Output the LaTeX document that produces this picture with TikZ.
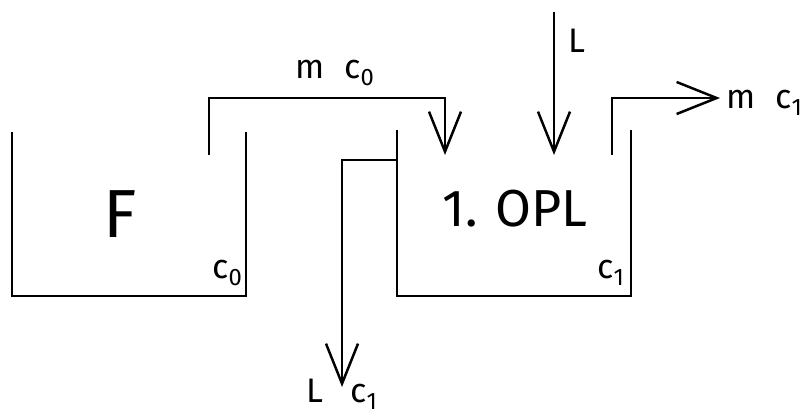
\documentclass[tikz,border=0pt]{standalone}
\usepackage{fontspec}
\setmainfont{Fira Sans}
\usetikzlibrary{arrows.meta}
\begin{document}
\begin{tikzpicture}[x=1pt,y=-1pt,line width=2.5pt,
  wall/.style={draw,line join=miter,line cap=rect},
  flow/.style={draw,line join=miter,-{Straight Barb[length=40pt,width=32pt,line width=2.5pt]}},
  lbl/.style={inner sep=0pt,font=\fontsize{34}{36}\selectfont},
  big/.style={inner sep=0pt,font=\fontsize{68}{72}\selectfont},
  mid/.style={inner sep=0pt,font=\fontsize{52}{56}\selectfont}]
\useasboundingbox (0,0) rectangle (805,416);
% tanks
\coordinate (ftl) at (12,133); \coordinate (fbl) at (12,296);
\coordinate (fbr) at (246,296); \coordinate (ftr) at (246,133);
\coordinate (otl) at (397,131); \coordinate (obl) at (397,296);
\coordinate (obr) at (631,296); \coordinate (otr) at (631,131);
\draw[wall] (ftl) -- (fbl) -- (fbr) -- (ftr);
\draw[wall] (otl) -- (obl) -- (obr) -- (otr);
% pipes
\coordinate (p1s) at (209,155); \coordinate (p1t) at (209,98); \coordinate (p1e) at (445,155);
\draw[flow] (p1s) -- (p1t) -| (p1e);
\coordinate (ls) at (554,12); \coordinate (le) at (554,155);
\draw[flow] (ls) -- (le);
\coordinate (os) at (612,155); \coordinate (ot) at (612,98); \coordinate (oe) at (720,98);
\draw[flow] (os) -- (ot) -- (oe);
\coordinate (rs) at (397,160); \coordinate (rc) at (342,160); \coordinate (re) at (342,387);
\draw[flow] (rs) -- (rc) -- (re);
% labels
\node[big] (F) at (120,214) {F};
\node[mid] (opl) at (515,209) {1.\,\,OPL};
\node[lbl,anchor=base west] (c0) at (211,278) {c\textsubscript{0}};
\node[lbl,anchor=base west] (c1) at (596,278) {c\textsubscript{1}};
\node[lbl,anchor=base west] (mc0) at (294,78) {m\hspace{20pt}c\textsubscript{0}};
\node[lbl,anchor=base west] (mc1) at (725,108) {m\hspace{20pt}c\textsubscript{1}};
\node[lbl,anchor=base west] (Ltop) at (567,52) {L};
\node[lbl,anchor=base west] (Lbot) at (305,402) {L};
\node[lbl,anchor=base west] (cbot) at (349,402) {c\textsubscript{1}};
\end{tikzpicture}
\end{document}
